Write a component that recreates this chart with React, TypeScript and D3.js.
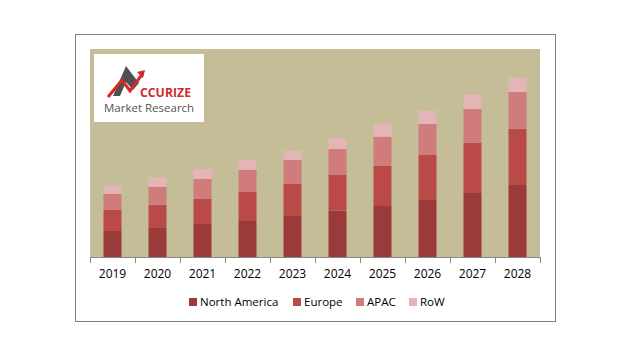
import React from "react";
import * as d3 from "d3";

const years = ["2019", "2020", "2021", "2022", "2023", "2024", "2025", "2026", "2027", "2028"];
const seriesNames = ["North America", "Europe", "APAC", "RoW"];
const northAmerica = [26, 29, 33, 36, 41, 46.3, 51, 57, 64, 72];
const europe = [21, 23.3, 25, 29, 32, 35.7, 40, 45, 50.3, 56.3];
const apac = [16, 18, 20, 22, 24, 26, 29.3, 31, 33.7, 36.7];
const row = [8, 9.4, 10, 10, 9.3, 10.7, 12.4, 13.3, 14.3, 14.3];
const colors = ["#9A3A3B", "#B94A48", "#D07B7C", "#E4B5B7"];

const W = 640, H = 357;
const plot = { x0: 90, x1: 540, y0: 49, y1: 257 };

export default function App() {
  const data = years.map((y, i) => ({
    year: y,
    "North America": northAmerica[i],
    Europe: europe[i],
    APAC: apac[i],
    RoW: row[i],
  }));
  const stack = d3.stack<any>().keys(seriesNames)(data);
  const x = d3.scaleBand().domain(years).range([plot.x0, plot.x1]).paddingInner(0.6).paddingOuter(0.3);
  const xb = d3.scaleBand().domain(years).range([plot.x0, plot.x1]);
  const y = d3.scaleLinear().domain([0, 208]).range([plot.y1, plot.y0]);
  const font = "'Open Sans', sans-serif";
  const legendX = [189, 293, 356, 409];

  return (
    <svg width={W} height={H} style={{ position: "absolute", left: 0, top: 0, background: "#fff" }}>
      <rect x={75.5} y={34.5} width={480} height={287} fill="#fff" stroke="#808080" strokeWidth={1} />
      <rect x={plot.x0} y={plot.y0} width={plot.x1 - plot.x0} height={plot.y1 - plot.y0} fill="#C4BD97" />
      {/* Logo */}
      <g>
        <rect x={94} y={54} width={110} height={68} fill="#fff" />
        <polygon points="126,66 113,96 120,96 126,82 133,90 139,83" fill="#505050" />
        <polyline points="108,97 122,80 130,91 143,73" fill="none" stroke="#D42A2A" strokeWidth={3} />
        <polygon points="145,70 137,72 143,78" fill="#D42A2A" />
        <text x={140} y={96.5} fontFamily={font} fontWeight={700} fontSize={12.5} fill="#D42A2A" textLength={51} lengthAdjust="spacingAndGlyphs">CCURIZE</text>
        <text x={104} y={112} fontFamily={font} fontSize={11.5} fill="#555">Market Research</text>
      </g>
      {stack.map((s, si) => (
        <g key={s.key} fill={colors[si]}>
          {s.map((d, i) => (
            <rect key={i} x={x(years[i])} width={x.bandwidth()} y={y(d[1])} height={y(d[0]) - y(d[1])} />
          ))}
        </g>
      ))}
      <line x1={plot.x0} x2={plot.x1} y1={plot.y1 + 0.5} y2={plot.y1 + 0.5} stroke="#888" />
      {years.map((yr) => (
        <line key={"t" + yr} x1={(xb(yr) as number) + 0.5} x2={(xb(yr) as number) + 0.5} y1={plot.y1} y2={plot.y1 + 6} stroke="#888" />
      ))}
      <line x1={plot.x1 + 0.5} x2={plot.x1 + 0.5} y1={plot.y1} y2={plot.y1 + 6} stroke="#888" />
      {years.map((yr) => (
        <text key={"l" + yr} x={(xb(yr) as number) + xb.bandwidth() / 2} y={278} textAnchor="middle" fontFamily={font} fontSize={12} fill="#000">
          {yr}
        </text>
      ))}
      {seriesNames.map((n, i) => (
        <g key={n}>
          <rect x={legendX[i]} y={298} width={8} height={8} fill={colors[i]} />
          <text x={legendX[i] + 11} y={306} fontFamily={font} fontSize={11.5} fill="#000">{n}</text>
        </g>
      ))}
    </svg>
  );
}
